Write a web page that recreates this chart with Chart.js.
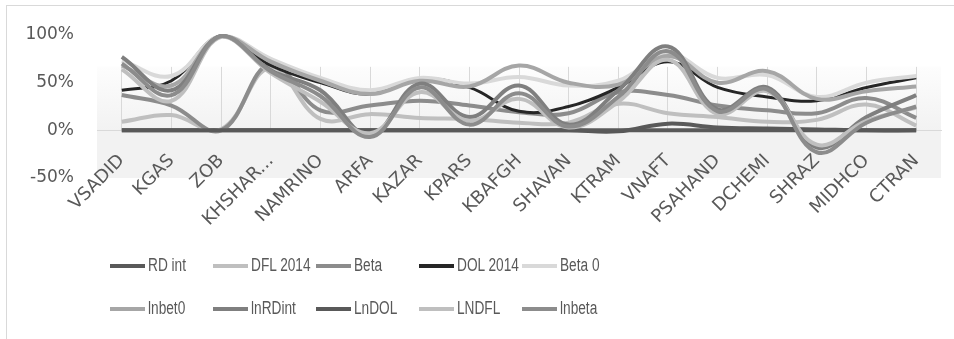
<!DOCTYPE html>
<html>
<head>
<meta charset="utf-8">
<script src="https://cdn.jsdelivr.net/npm/chart.js@4.4.1/dist/chart.umd.min.js"></script>
<style>
    html, body { margin: 0; padding: 0; background: #fff; overflow: hidden; }
    #wrap { position: relative; width: 954px; height: 339px; overflow: hidden; }
    #frame { position: absolute; left: 6px; top: 5px; width: 1000px; height: 400px; border: 1px solid #d9d9d9; }
    canvas { position: absolute; left: 0; top: 0; }
    #legend {
        position: absolute; left: 110px; top: 244px;
        display: grid; grid-template-columns: repeat(5, 103px); grid-auto-rows: 43px;
        font-family: "Liberation Sans", sans-serif;
        font-size: 18px; color: #595959;
    }
    .item { display: flex; align-items: center; white-space: nowrap; }
    .swatch { width: 35px; height: 4px; margin-right: 3px; flex: none; }
    .txt { display: inline-block; transform: scaleX(0.76); transform-origin: left center; }
</style>
</head>
<body>
<div id="wrap">
    <div id="frame"></div>
    <canvas id="chart" width="954" height="339"></canvas>
    <div id="legend"></div>
</div>
<script>
//categories
const categories = ['VSADID', 'KGAS', 'ZOB', 'KHSHAR...', 'NAMRINO', 'ARFA', 'KAZAR', 'KPARS', 'KBAFGH',
    'SHAVAN', 'KTRAM', 'VNAFT', 'PSAHAND', 'DCHEMI', 'SHRAZ', 'MIDHCO', 'CTRAN'];

//series values, in percent
const rdInt   = [0, 0, 0, 0, 0, 0, 0, 0, 0, 0, -1, 7, 3, 2, 1, 0, 0];
const dfl2014 = [9, 16, 1, 66, 12, 17, 13, 12, 8, 8, 28, 18, 14, 9, 11, 27, 5];
const beta    = [37, 26, 0, 70, 21, 26, 31, 26, 19, 18, 40, 37, 26, 21, 18, 34, 13];
const dol2014 = [42, 52, 99, 68, 50, 38, 54, 45, 20, 25, 45, 72, 45, 35, 31, 45, 55];
const beta0   = [73, 57, 99, 75, 55, 42, 55, 49, 56, 47, 52, 80, 55, 58, 35, 50, 57];
const lnbet0  = [68, 47, 99, 72, 52, 38, 52, 46, 68, 50, 48, 78, 50, 62, 33, 41, 46];
const lnRDint = [77, 42, 99, 63, 42, -5, 49, 14, 47, 6, 42, 88, 22, 45, -18, 14, 37];
const lnDOL   = [0, 0, 0, 0, 0, 0, 0, 0, 0, 0, 0, 0, 0, 0, 0, 0, 0];
const lndfl   = [64, 31, 98, 60, 30, -3, 40, 10, 33, 3, 30, 74, 17, 41, -15, 10, 24];
const lnbeta  = [70, 37, 99, 62, 36, -7, 45, 6, 39, 4, 35, 83, 20, 43, -23, 8, 25];

const seriesNames  = ['RD int', 'DFL 2014', 'Beta', 'DOL 2014', 'Beta 0', 'lnbet0', 'lnRDint', 'LnDOL', 'LNDFL', 'lnbeta'];
const seriesValues = [rdInt, dfl2014, beta, dol2014, beta0, lnbet0, lnRDint, lnDOL, lndfl, lnbeta];
const seriesColors = ['#595959', '#bfbfbf', '#8c8c8c', '#262626', '#d9d9d9', '#a6a6a6', '#7f7f7f', '#595959', '#bfbfbf', '#8c8c8c'];

//y ticks
const yMin = -50, yMax = 100, yStep = 50;
//plot fill starts at this value (Excel shading)
const shadeTop = 67;

/*
    Plot area shading
*/
const plotShade = {
    id: 'plotShade',
    beforeDraw(chart) {
        const area = chart.chartArea;
        const y = chart.scales.y;
        const ctx = chart.ctx;
        const top = y.getPixelForValue(shadeTop);
        const zero = y.getPixelForValue(0);
        const g = ctx.createLinearGradient(0, top, 0, zero);
        g.addColorStop(0, '#fdfdfd');
        g.addColorStop(1, '#f2f2f2');
        ctx.save();
        ctx.fillStyle = g;
        ctx.fillRect(area.left, top, area.right - area.left, zero - top);
        ctx.fillStyle = '#f2f2f2';
        ctx.fillRect(area.left, zero, area.right - area.left, area.bottom - zero);
        ctx.restore();
    }
};

function gridColor(c) {
    const chart = c.chart;
    const area = chart.chartArea;
    const y = chart.scales.y;
    if (!area || !y) return 'rgba(217,217,217,0)';
    const h = area.bottom - area.top;
    const a = (y.getPixelForValue(shadeTop) - area.top) / h;
    const b = (y.getPixelForValue(0) - area.top) / h;
    const g = chart.ctx.createLinearGradient(0, area.top, 0, area.bottom);
    g.addColorStop(0, 'rgba(217,217,217,0)');
    g.addColorStop(a, 'rgba(217,217,217,0)');
    g.addColorStop(a + 0.002, '#d9d9d9');
    g.addColorStop(b, '#d9d9d9');
    g.addColorStop(b + 0.002, 'rgba(217,217,217,0)');
    g.addColorStop(1, 'rgba(217,217,217,0)');
    return g;
}

const datasets = seriesNames.map((name, i) => ({
    label: name,
    data: seriesValues[i],
    borderColor: seriesColors[i],
    backgroundColor: seriesColors[i],
    borderWidth: name == 'DOL 2014' ? 3 : 4,
    pointRadius: 0,
    tension: 0.4,
    clip: false,
    order: seriesNames.length - i,
}));

const chart = new Chart(document.getElementById('chart').getContext('2d'), {
    type: 'line',
    data: { labels: categories, datasets: datasets },
    plugins: [plotShade],
    options: {
        responsive: false,
        animation: false,
        layout: { padding: { left: 0, right: 13, top: 35, bottom: 161 } },
        plugins: {
            legend: { display: false },
            tooltip: { enabled: false },
        },
        scales: {
            x: {
                position: { y: 0 },
                offset: true,
                grid: { offset: false, drawTicks: false, color: gridColor },
                border: { color: '#d9d9d9', width: 1 },
                ticks: {
                    color: '#595959',
                    font: { family: 'DejaVu Sans', size: 18 },
                    minRotation: 45,
                    maxRotation: 45,
                    autoSkip: false,
                    padding: 20,
                },
                afterFit: s => { s.height = 0; },
            },
            y: {
                min: yMin,
                max: yMax,
                grid: { display: false, drawTicks: false },
                border: { display: false },
                ticks: {
                    stepSize: yStep,
                    color: '#595959',
                    font: { family: 'DejaVu Sans', size: 17 },
                    padding: 23,
                    callback: v => v + '%',
                },
                afterFit: s => { s.width = 97; },
            },
        },
    },
});

/*
    Legend (Excel style columns)
*/
const legend = document.getElementById('legend');
for (let ds of chart.data.datasets) {
    const item = document.createElement('div');
    item.className = 'item';
    const sw = document.createElement('span');
    sw.className = 'swatch';
    sw.style.background = ds.borderColor;
    const txt = document.createElement('span');
    txt.className = 'txt';
    txt.textContent = ds.label;
    item.appendChild(sw);
    item.appendChild(txt);
    legend.appendChild(item);
}
</script>
</body>
</html>
